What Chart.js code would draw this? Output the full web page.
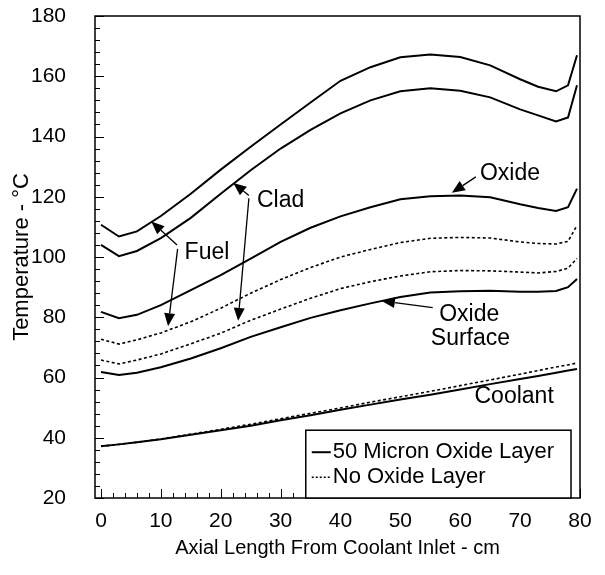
<!DOCTYPE html>
<html>
<head>
<meta charset="utf-8">
<script src="https://cdn.jsdelivr.net/npm/chart.js@4.4.1/dist/chart.umd.min.js"></script>
<style>
  html, body { margin: 0; padding: 0; background: #fff; }
</style>
</head>
<body>
<canvas id="tempChart" width="605" height="575"></canvas>
<script>
// axial positions (cm) shared by every curve
const axialPos = [0, 3, 6, 10, 15, 20, 25, 30, 35, 40, 45, 50, 55, 60, 65, 70, 73, 76, 78, 79.5];

// 50 micron oxide layer (solid)
const fuelOxide    = [110.7, 106.8, 108.5, 113.6, 121.0, 129.0, 136.6, 144.0, 151.3, 158.5, 163.0, 166.3, 167.2, 166.4, 163.6, 159.0, 156.5, 155.0, 157.0, 167.0];
const cladOxide    = [104.0, 100.3, 102.0, 106.3, 113.0, 121.0, 128.8, 136.0, 142.2, 147.7, 152.0, 155.0, 156.0, 155.2, 153.0, 149.0, 147.0, 145.0, 146.3, 157.0];
const oxideTemp    = [81.8, 79.7, 80.8, 84.0, 89.0, 94.0, 99.5, 105.0, 109.7, 113.5, 116.5, 119.2, 120.2, 120.4, 119.8, 117.5, 116.3, 115.3, 116.5, 122.7];
const oxideSurface = [61.8, 60.8, 61.6, 63.4, 66.3, 69.7, 73.5, 76.7, 79.8, 82.3, 84.6, 86.7, 88.2, 88.6, 88.8, 88.5, 88.5, 88.7, 90.0, 92.7];
const coolantOxide = [37.2, 37.8, 38.5, 39.5, 41.0, 42.5, 44.0, 45.8, 47.5, 49.3, 51.0, 52.7, 54.3, 56.0, 57.8, 59.5, 60.5, 61.6, 62.3, 62.8];

// no oxide layer (dotted)
const fuelBare     = [72.7, 71.1, 72.5, 74.8, 78.5, 83.0, 88.0, 92.5, 96.5, 100.0, 102.5, 104.8, 106.2, 106.5, 106.3, 105.0, 104.5, 104.3, 105.2, 110.5];
const cladBare     = [65.8, 64.5, 65.8, 67.8, 71.2, 74.7, 79.0, 82.7, 86.3, 89.5, 91.8, 93.7, 95.1, 95.5, 95.4, 95.0, 94.7, 95.2, 96.3, 99.5];
const coolantBare  = [37.2, 37.8, 38.5, 39.6, 41.2, 42.8, 44.5, 46.3, 48.1, 49.9, 51.8, 53.6, 55.4, 57.3, 59.2, 61.1, 62.3, 63.5, 64.2, 64.8];

const xTickVals = [0, 10, 20, 30, 40, 50, 60, 70, 80];
const yTickVals = [20, 40, 60, 80, 100, 120, 140, 160, 180];

const legendItems = [
    { label: '50 Micron Oxide Layer', dash: [] },
    { label: 'No Oxide Layer', dash: [2, 2] }
];

// text labels and arrows, in data units
const labelNotes = [
    { text: 'Fuel', x: 17.7, y: 101.6 },
    { text: 'Clad', x: 30.0, y: 118.6 },
    { text: 'Oxide', x: 68.3, y: 127.6 },
    { text: 'Oxide', x: 61.5, y: 81.0 },
    { text: 'Surface', x: 61.7, y: 73.0 },
    { text: 'Coolant', x: 69.0, y: 53.5 }
];
const arrowNotes = [
    { from: [12.7, 104.0], to: [8.4, 111.8] },
    { from: [12.8, 102.7], to: [11.2, 77.0] },
    { from: [24.7, 120.4], to: [22.1, 124.6] },
    { from: [24.7, 119.5], to: [22.9, 78.8] },
    { from: [62.6, 126.6], to: [58.6, 121.3] },
    { from: [55.4, 83.2], to: [46.9, 85.4] }
];

const FONT = "'Liberation Sans', Arial, sans-serif";

function pts(arr) {
    return axialPos.map((x, i) => ({ x: x, y: arr[i] }));
}

function solid(arr) {
    return { data: pts(arr), borderColor: '#000', borderWidth: 2, pointRadius: 0, tension: 0, fill: false };
}
function dotted(arr) {
    return { data: pts(arr), borderColor: '#000', borderWidth: 1.6, borderDash: [3, 2.5], pointRadius: 0, tension: 0, fill: false };
}

function drawArrow(ctx, x1, y1, x2, y2) {
    const ang = Math.atan2(y2 - y1, x2 - x1);
    const len = 13, half = 5.5;
    const bx = x2 - Math.cos(ang) * len, by = y2 - Math.sin(ang) * len;
    ctx.beginPath();
    ctx.moveTo(x1, y1);
    ctx.lineTo(bx, by);
    ctx.lineWidth = 1.3;
    ctx.stroke();
    ctx.beginPath();
    ctx.moveTo(x2, y2);
    ctx.lineTo(bx + Math.sin(ang) * half, by - Math.cos(ang) * half);
    ctx.lineTo(bx - Math.sin(ang) * half, by + Math.cos(ang) * half);
    ctx.closePath();
    ctx.fill();
}

const framePlugin = {
    id: 'frame',
    beforeDatasetsDraw(chart) {
        const { ctx, chartArea: a, scales: { x, y } } = chart;
        ctx.save();
        ctx.strokeStyle = '#000';
        ctx.lineWidth = 1.5;
        ctx.strokeRect(a.left, a.top, a.right - a.left, a.bottom - a.top);
        ctx.lineWidth = 1;
        ctx.beginPath();
        // inside ticks on the left axis
        for (let v = 20; v <= 180; v += 4) {
            const py = Math.round(y.getPixelForValue(v)) + 0.5;
            const l = (v % 20 === 0) ? 9 : 5;
            ctx.moveTo(a.left, py);
            ctx.lineTo(a.left + l, py);
        }
        // inside ticks on the bottom axis
        for (let v = 0; v <= 80; v += 2) {
            const px = Math.round(x.getPixelForValue(v)) + 0.5;
            const l = (v % 10 === 0) ? 9 : 5;
            ctx.moveTo(px, a.bottom);
            ctx.lineTo(px, a.bottom - l);
        }
        ctx.stroke();
        ctx.restore();
    },
    afterDatasetsDraw(chart) {
        const { ctx, chartArea: a, scales: { x, y } } = chart;
        ctx.save();
        // legend box sitting on the x axis
        const bx = x.getPixelForValue(34.2), bw = x.getPixelForValue(78.5) - bx;
        const by = y.getPixelForValue(42.5), bh = a.bottom - by;
        ctx.fillStyle = '#fff';
        ctx.fillRect(bx, by, bw, bh);
        ctx.strokeStyle = '#000';
        ctx.lineWidth = 1.5;
        ctx.strokeRect(bx, by, bw, bh);
        ctx.font = '22px ' + FONT;
        ctx.fillStyle = '#000';
        ctx.textBaseline = 'middle';
        legendItems.forEach((item, i) => {
            const ry = by + 22 + i * 25;
            ctx.beginPath();
            ctx.setLineDash(item.dash);
            ctx.lineWidth = item.dash.length ? 1.6 : 2;
            ctx.moveTo(bx + 6, ry);
            ctx.lineTo(bx + 25, ry);
            ctx.stroke();
            ctx.setLineDash([]);
            ctx.fillText(item.label, bx + 27, ry);
        });
        // annotations
        ctx.font = '23px ' + FONT;
        ctx.textAlign = 'center';
        labelNotes.forEach(n => ctx.fillText(n.text, x.getPixelForValue(n.x), y.getPixelForValue(n.y)));
        arrowNotes.forEach(ar => drawArrow(ctx,
            x.getPixelForValue(ar.from[0]), y.getPixelForValue(ar.from[1]),
            x.getPixelForValue(ar.to[0]), y.getPixelForValue(ar.to[1])));
        ctx.restore();
    }
};

new Chart(document.getElementById('tempChart'), {
    type: 'line',
    data: {
        datasets: [
            solid(fuelOxide), solid(cladOxide), solid(oxideTemp), solid(oxideSurface), solid(coolantOxide),
            dotted(fuelBare), dotted(cladBare), dotted(coolantBare)
        ]
    },
    options: {
        responsive: false,
        animation: false,
        events: [],
        layout: { padding: { top: 16, right: 25, left: 0, bottom: 0 } },
        plugins: { legend: { display: false }, tooltip: { enabled: false } },
        scales: {
            x: {
                type: 'linear',
                min: -1,
                max: 80,
                afterFit: s => { s.height = 77; s.paddingLeft = 0; s.paddingRight = 0; },
                afterBuildTicks: s => { s.ticks = xTickVals.map(v => ({ value: v })); },
                grid: { display: false, drawTicks: false },
                border: { display: false },
                ticks: { color: '#000', padding: 11, maxRotation: 0, font: { family: FONT, size: 21 } },
                title: {
                    display: true,
                    text: 'Axial Length From Coolant Inlet - cm',
                    color: '#000',
                    font: { family: FONT, size: 20 },
                    padding: { top: 0, bottom: 15 }
                }
            },
            y: {
                min: 20,
                max: 180,
                afterFit: s => { s.width = 95; s.paddingTop = 0; s.paddingBottom = 0; },
                afterBuildTicks: s => { s.ticks = yTickVals.map(v => ({ value: v })); },
                grid: { display: false, drawTicks: false },
                border: { display: false },
                ticks: { color: '#000', padding: 29, font: { family: FONT, size: 21 } },
                title: {
                    display: true,
                    text: 'Temperature - °C',
                    color: '#000',
                    font: { family: FONT, size: 22 },
                    padding: { top: 9, bottom: 0 }
                }
            }
        }
    },
    plugins: [framePlugin]
});
</script>
</body>
</html>
